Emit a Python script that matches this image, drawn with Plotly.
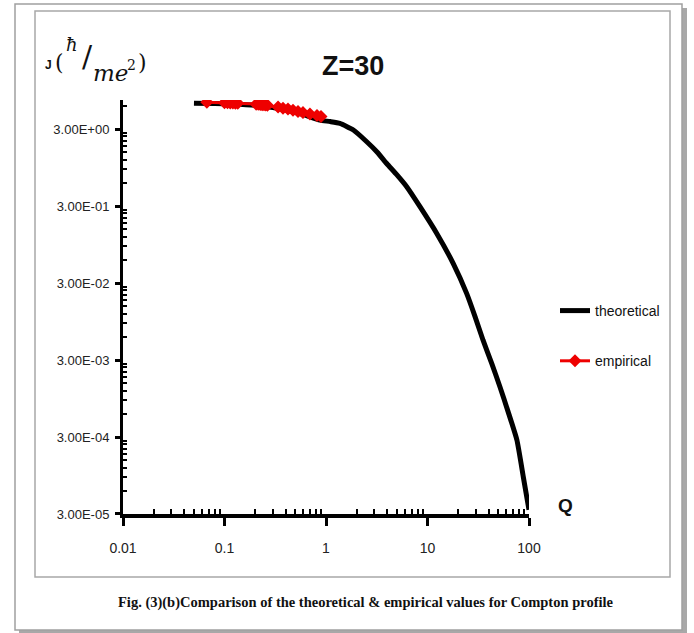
import plotly.graph_objects as go

# ---- data ----
theo_q = [0.05, 0.08, 0.12, 0.2, 0.3, 0.45, 0.6, 0.87, 1.1, 1.37, 1.86, 2.52, 3.2, 3.96, 5.0,
          6.24, 8.43, 12.3, 17.9, 24.3, 29.4, 35.2, 43, 51.8, 62, 76, 88, 100]
theo_j = [6.5, 6.45, 6.35, 6.1, 5.7, 5.1, 4.6, 3.92, 3.75, 3.55, 2.91, 2.05, 1.5, 1.07, 0.76,
          0.534, 0.294, 0.133, 0.054, 0.022, 0.011, 0.00546, 0.0027, 0.00134, 0.00065,
          0.000274, 0.00009, 0.000034]

emp_q = [0.067, 0.10, 0.107, 0.114, 0.121, 0.128, 0.135, 0.205, 0.215, 0.225, 0.235, 0.245,
         0.255, 0.265, 0.337, 0.377, 0.422, 0.473, 0.530, 0.593, 0.695, 0.815, 0.893]
emp_j = [6.7, 6.6, 6.6, 6.55, 6.55, 6.5, 6.5, 6.3, 6.3, 6.25, 6.2, 6.2, 6.15, 6.1, 5.8,
         5.6, 5.45, 5.25, 5.05, 4.9, 4.7, 4.5, 4.35]

x_ticks = [0.01, 0.1, 1, 10, 100]
x_labels = ["0.01", "0.1", "1", "10", "100"]
y_ticks = [3e-5, 3e-4, 3e-3, 3e-2, 3e-1, 3e0]
y_labels = ["3.00E-05", "3.00E-04", "3.00E-03", "3.00E-02", "3.00E-01", "3.00E+00"]

SANS = "Liberation Sans, Arial, sans-serif"
SERIF = "DejaVu Serif, serif"

# plot area in pixels
L, R, T, B = 123, 529, 100, 514
W, H = 694, 633


def px(x):
    return (x - L) / (R - L)


def py(y):
    return (B - y) / (B - T)


fig = go.Figure()
fig.add_trace(go.Scatter(x=theo_q, y=theo_j, mode="lines", name="theoretical",
                         line=dict(color="black", width=5, shape="spline", smoothing=0.5),
                         legendgroup="a"))
fig.add_trace(go.Scatter(x=emp_q, y=emp_j, mode="lines+markers", name="empirical",
                         line=dict(color="#ee0000", width=3),
                         marker=dict(symbol="diamond", size=10, color="#ee0000"),
                         legendgroup="b"))

x_minor = [m * d for d in [0.01, 0.1, 1, 10] for m in range(2, 10)]
y_minor = [m * d for d in [3e-5, 3e-4, 3e-3, 3e-2, 3e-1] for m in range(2, 10)] + [6, 9]

fig.update_xaxes(type="log", range=[-2, 2], showgrid=False, zeroline=False,
                 showline=True, linecolor="black", linewidth=4,
                 tickmode="array", tickvals=x_ticks, ticktext=x_labels,
                 ticks="outside", ticklen=8, tickwidth=3, tickcolor="black",
                 tickfont=dict(family=SANS, size=14, color="#222"),
                 ticklabelstandoff=10,
                 minor=dict(tickmode="array", tickvals=x_minor, ticks="inside",
                            ticklen=5, tickwidth=2, tickcolor="black", showgrid=False))
fig.update_yaxes(type="log", range=[-4.523, 0.854], showgrid=False, zeroline=False,
                 showline=True, linecolor="black", linewidth=3,
                 tickmode="array", tickvals=y_ticks, ticktext=y_labels,
                 ticks="outside", ticklen=5, tickwidth=3, tickcolor="black",
                 tickfont=dict(family=SANS, size=13, color="#222"),
                 ticklabelstandoff=3,
                 minor=dict(tickmode="array", tickvals=y_minor, ticks="inside",
                            ticklen=4, tickwidth=2, tickcolor="black", showgrid=False))

shapes = [
    # outer frame shadow
    dict(type="rect", xref="paper", yref="paper", x0=px(19), x1=px(687), y0=py(636), y1=py(8),
         fillcolor="#a8a8a8", line=dict(width=0), layer="below"),
    dict(type="rect", xref="paper", yref="paper", x0=px(15), x1=px(682), y0=py(630), y1=py(4),
         fillcolor="white", line=dict(color="#a0a0a0", width=1.5), layer="below"),
    # inner chart box
    dict(type="rect", xref="paper", yref="paper", x0=px(35), x1=px(670), y0=py(577), y1=py(11),
         fillcolor="rgba(0,0,0,0)", line=dict(color="#a8a8a8", width=1.5), layer="below"),
]

ann = [
    dict(text="<b>Z=30</b>", x=px(353), y=py(66), font=dict(family=SANS, size=27, color="#111")),
    dict(text="<b>Q</b>", x=px(565), y=py(505), font=dict(family=SANS, size=19, color="#111")),
    dict(text="<b>J</b>", x=px(48), y=py(65), font=dict(family=SANS, size=12, color="#111")),
    dict(text="(", x=px(59), y=py(62), font=dict(family=SERIF, size=22, color="#111")),
    dict(text="<i>ħ</i>", x=px(72), y=py(44), font=dict(family=SERIF, size=18, color="#111")),
    dict(text="/", x=px(87), y=py(57), font=dict(family=SERIF, size=30, color="#111")),
    dict(text="<i>me</i>", x=px(110), y=py(73), font=dict(family=SERIF, size=23, color="#111")),
    dict(text="2", x=px(131), y=py(65), font=dict(family=SERIF, size=14, color="#111")),
    dict(text=")", x=px(142), y=py(62), font=dict(family=SERIF, size=22, color="#111")),
    dict(text="<b>Fig. (3)(b)Comparison of the theoretical &amp; empirical values for Compton profile</b>",
         x=px(366), y=py(602), font=dict(family="Liberation Serif, serif", size=14.5, color="#111")),
]
for a in ann:
    a.update(xref="paper", yref="paper", showarrow=False, xanchor="center", yanchor="middle")

fig.update_layout(
    width=W, height=H,
    margin=dict(l=L, r=W - R, t=T, b=H - B),
    paper_bgcolor="white", plot_bgcolor="rgba(0,0,0,0)",
    shapes=shapes, annotations=ann,
    showlegend=True,
    legend=dict(x=px(555), y=py(295), xanchor="left", yanchor="top",
                font=dict(family=SANS, size=14, color="#111"),
                bgcolor="rgba(0,0,0,0)", tracegroupgap=29, itemwidth=30),
)

fig.write_html("out.html")
